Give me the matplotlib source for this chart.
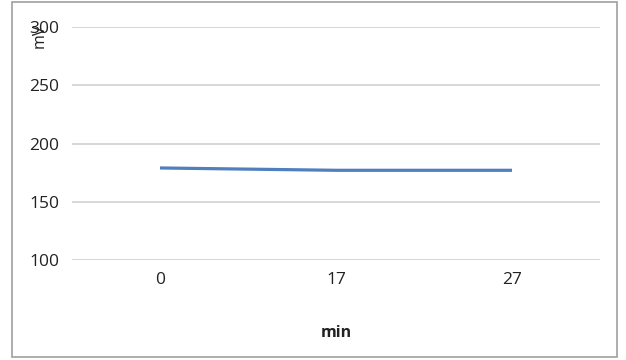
import matplotlib
matplotlib.use("Agg")
import matplotlib.pyplot as plt
from matplotlib.patches import Rectangle

# sample times (minutes) and measured potential (mV)
times = ["0", "17", "27"]
potential = [179, 177, 177]
y_ticks = [100, 150, 200, 250, 300]

plt.rcParams['font.family'] = ['Open Sans', 'DejaVu Sans']

fig = plt.figure(figsize=(6.26, 3.6), dpi=100)
ax = fig.add_axes([72 / 626, 1 - 260 / 360, 528 / 626, 233 / 360])

pos = list(range(len(times)))
ax.plot(pos, potential, color="#4f7fbc", linewidth=2.3, solid_capstyle="butt")

ax.set_xlim(-0.5, len(times) - 0.5)
ax.set_ylim(100, 300)
ax.set_yticks(y_ticks)
ax.set_xticks(pos)
ax.set_xticklabels(times)
ax.yaxis.grid(True, color="#d4d4d4", linewidth=1.3)
ax.set_axisbelow(True)
for s in ax.spines.values():
    s.set_visible(False)
ax.tick_params(length=0, labelsize=12.5, colors="#222222")
ax.tick_params(axis="x", pad=9)
ax.tick_params(axis="y", pad=9)

ax.set_xlabel("min", fontsize=11.5, fontweight="bold", labelpad=26, color="#222222")
# y unit label sits up by the top tick, as in the original sheet
fig.text(40 / 626, 1 - 36 / 360, "mV", rotation=90, fontsize=11.5,
         ha="center", va="center", color="#222222")

# chart border
fig.patches.append(Rectangle((12 / 626, 1 - 357 / 360), 605 / 626, 355 / 360,
                             transform=fig.transFigure, fill=False,
                             edgecolor="#a0a0a0", linewidth=1.2))

fig.savefig("out.png", dpi=100)
